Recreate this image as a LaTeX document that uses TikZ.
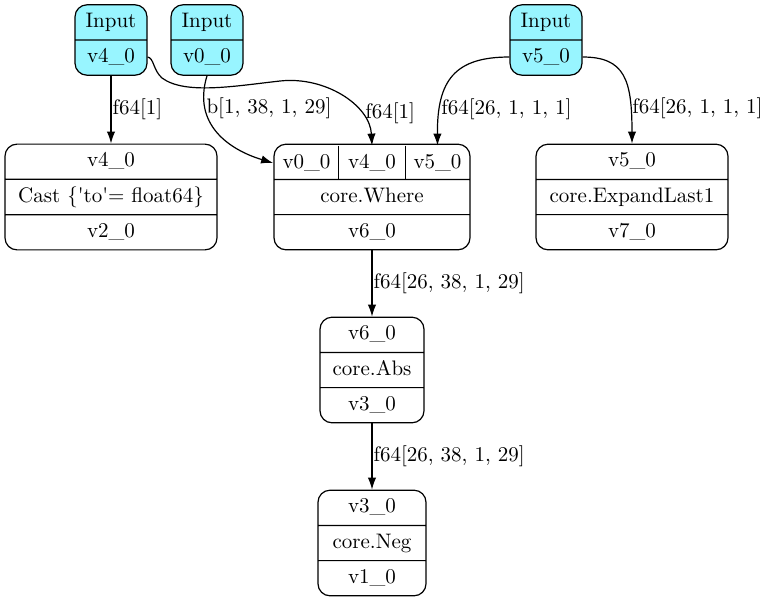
\documentclass[tikz,border=0pt]{standalone}
\usetikzlibrary{arrows.meta,shapes.multipart}
\definecolor{inputcyan}{RGB}{152,245,255}
% strut that gives every record field the same height
\newcommand{\fieldstrut}{\rule[-2.8pt]{0pt}{10.6pt}}
\tikzset{
    %Define standard arrow tip
    >={Latex[length=6pt,width=4.2pt]},
    %Define style for record boxes
    rec/.style={
           rectangle split,
           rectangle split parts=3,
           rounded corners=6pt,
           draw=black, line width=0.6pt,
           font=\fontsize{10.5}{12}\selectfont,
           inner ysep=3.2pt,
           inner xsep=2pt},
    % Define style for input boxes
    inbox/.style={
           rec,
           rectangle split parts=2,
           fill=inputcyan,
           minimum width=36pt},
    % Define style for ports of a record
    port/.style={
           font=\fontsize{10.5}{12}\selectfont,
           minimum width=33pt,
           minimum height=17pt,
           inner sep=0pt},
    % Define arrow style
    pil/.style={
           ->,
           line width=0.6pt},
    % Define style for edge labels
    lbl/.style={
           font=\fontsize{10.5}{12}\selectfont,
           anchor=west,
           inner sep=0.5pt}
}
\begin{document}
\begin{tikzpicture}[x=0.5pt, y=-0.5pt]
 \useasboundingbox (0,0) rectangle (777,601);
 % inputs
 \node[inbox](in4) at (111,40){\fieldstrut Input \nodepart{two}\fieldstrut v4\_0};
 \node[inbox](in0) at (207,40){\fieldstrut Input \nodepart{two}\fieldstrut v0\_0};
 \node[inbox](in5) at (546,40){\fieldstrut Input \nodepart{two}\fieldstrut v5\_0};
 % operations
 \node[rec, minimum width=106pt](cast) at (111,197){\fieldstrut v4\_0
   \nodepart{two}\fieldstrut Cast \{\textquotesingle to\textquotesingle= float64\}
   \nodepart{three}\fieldstrut v2\_0};
 \node[rec, minimum width=98pt](where) at (372,197){\fieldstrut
   \nodepart{two}\fieldstrut core.Where
   \nodepart{three}\fieldstrut v6\_0};
 \node[port](wp0) at (306.5,163){v0\_0};
 \node[port](wp4) at (372,163){v4\_0};
 \node[port](wp5) at (437.5,163){v5\_0};
 \draw[line width=0.6pt] (wp4.north west) -- (wp4.south west)
   (wp4.north east) -- (wp4.south east);
 \node[rec, minimum width=96pt](exp) at (632,197){\fieldstrut v5\_0
   \nodepart{two}\fieldstrut core.ExpandLast1
   \nodepart{three}\fieldstrut v7\_0};
 \node[rec, minimum width=52pt](abs) at (372,370){\fieldstrut v6\_0
   \nodepart{two}\fieldstrut core.Abs
   \nodepart{three}\fieldstrut v3\_0};
 \node[rec, minimum width=54pt](neg) at (372,543){\fieldstrut v3\_0
   \nodepart{two}\fieldstrut core.Neg
   \nodepart{three}\fieldstrut v1\_0};
 % edges
 \draw[pil] (in4.south) -- (cast.north) node[lbl, midway]{f64[1]};
 \draw[pil] (in0.south) .. controls (192,125) and (230,150) .. (wp0.west)
   node[lbl, pos=0.25]{b[1, 38, 1, 29]};
 \draw[pil] ([yshift=-8.5pt]in4.east) .. controls (154,58) and (153,70) .. (162,78)
   .. controls (185,95) and (235,86) .. (280,81)
   .. controls (325,76) and (370,105) .. (wp4.north)
   node[lbl, pos=0.7, xshift=2pt]{f64[1]};
 \draw[pil] ([yshift=-8.5pt]in5.west) .. controls (455,57) and (437,80) .. (wp5.north)
   node[lbl, pos=0.79]{f64[26, 1, 1, 1]};
 \draw[pil] ([yshift=-8.5pt]in5.east) .. controls (625,57) and (632,80) .. (exp.north)
   node[lbl, pos=0.79]{f64[26, 1, 1, 1]};
 \draw[pil] (where.south) -- (abs.north) node[lbl, midway]{f64[26, 38, 1, 29]};
 \draw[pil] (abs.south) -- (neg.north) node[lbl, midway]{f64[26, 38, 1, 29]};
\end{tikzpicture}
\end{document}
